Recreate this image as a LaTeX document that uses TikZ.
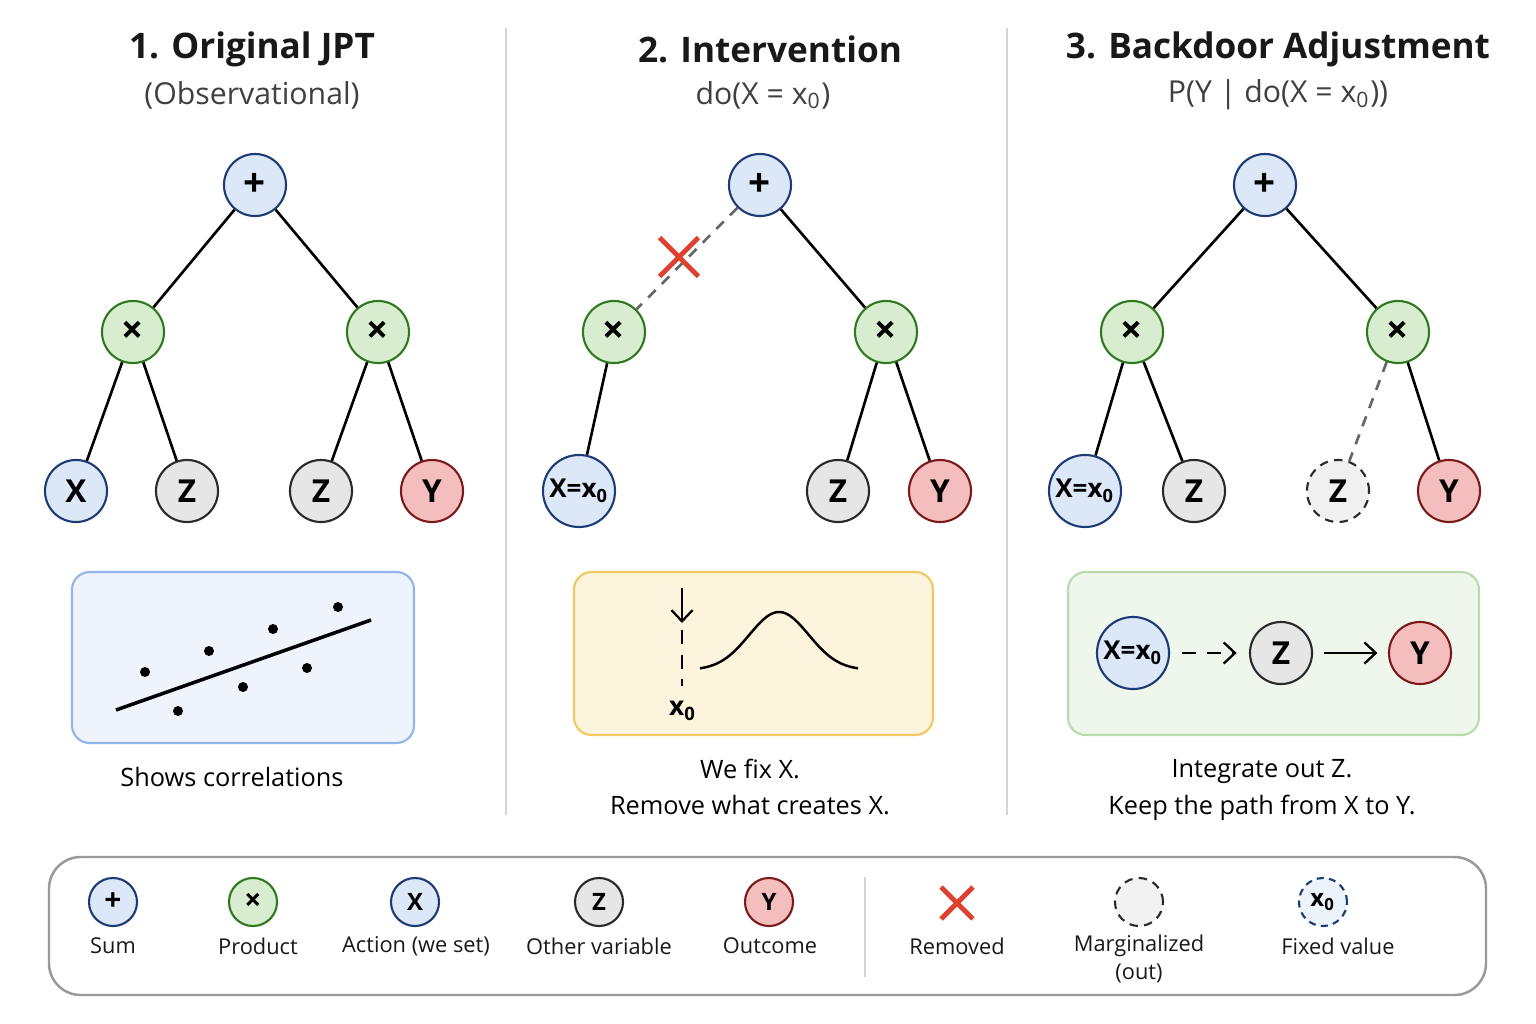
\documentclass[tikz,border=0pt]{standalone}
\usepackage{fontspec}
\setmainfont{Open Sans}
\usepackage{tikz}
\usetikzlibrary{shapes.misc, arrows.meta}

\definecolor{sumfill}{HTML}{DCE8F8}
\definecolor{sumline}{HTML}{1D3B75}
\definecolor{prodfill}{HTML}{D8EDD0}
\definecolor{prodline}{HTML}{2F7A1F}
\definecolor{othfill}{HTML}{E6E6E6}
\definecolor{othline}{HTML}{2A2A2A}
\definecolor{ycolfill}{HTML}{F5BEBE}
\definecolor{ycolline}{HTML}{7A1A1A}
\definecolor{cutred}{HTML}{E0402E}
\definecolor{divgray}{HTML}{D4D4D4}
\definecolor{boxAfill}{HTML}{EEF3FC}
\definecolor{boxAline}{HTML}{93B5EA}
\definecolor{boxBfill}{HTML}{FDF4DE}
\definecolor{boxBline}{HTML}{F2C862}
\definecolor{boxCfill}{HTML}{EFF6EB}
\definecolor{boxCline}{HTML}{B8DCAD}

\tikzset{
  var/.style={circle, draw, line width=0.6pt, minimum size=0.62cm, inner sep=0pt,
    font=\fontsize{9}{10}\selectfont\bfseries},
  opnode/.style={font=\fontsize{11}{12}\selectfont\bfseries},
  sumnode/.style={var, opnode, draw=sumline, fill=sumfill},
  prodnode/.style={var, opnode, draw=prodline, fill=prodfill},
  actnode/.style={var, draw=sumline, fill=sumfill},
  setnode/.style={actnode, minimum size=0.72cm, font=\fontsize{7.4}{9}\selectfont\bfseries},
  othnode/.style={var, draw=othline, fill=othfill},
  margnode/.style={var, draw=othline, fill=othfill!60, dash pattern=on 2.4pt off 1.8pt},
  ynode/.style={var, draw=ycolline, fill=ycolfill},
  small/.style={minimum size=0.48cm, font=\fontsize{6.8}{8}\selectfont\bfseries},
  smallop/.style={minimum size=0.48cm, font=\fontsize{8.5}{9}\selectfont\bfseries},
  link/.style={line width=0.75pt},
  cutlink/.style={line width=0.75pt, draw=black!60, dash pattern=on 3pt off 2.5pt},
  cutmark/.style={cross out, draw=cutred, line width=1.4pt, minimum size=0.34cm, inner sep=0pt},
  barb/.style={-{Straight Barb[length=3.2pt, width=6pt]}, line width=0.65pt},
  title/.style={font=\fontsize{10}{12}\selectfont\bfseries, text=black!90},
  subtitle/.style={font=\fontsize{8.6}{11}\selectfont, text=black!75},
  caption/.style={font=\fontsize{7.2}{10.5}\selectfont, align=center, text=black},
  legtext/.style={font=\fontsize{6.2}{7.8}\selectfont, align=center, text=black!90},
  panel/.style={rounded corners=5pt, line width=0.6pt}
}

\begin{document}
\begin{tikzpicture}[x=0.01cm, y=-0.01cm]
\useasboundingbox[fill=white] (0,0) rectangle (1536,1024);

% dividers
\draw[divgray, line width=0.6pt] (506,28) -- (506,815);
\draw[divgray, line width=0.6pt] (1007,28) -- (1007,815);

% ---------- 1. Original JPT ----------
\node[title] (titleA) at (252,49) {1. Original JPT};
\node[subtitle] (subA) at (252,95) {(Observational)};

\node[sumnode] (rootA) at (255,185) {+};
\node[prodnode] (prodAL) at (133,332) {×};
\node[prodnode] (prodAR) at (378,332) {×};
\node[actnode] (xA) at (76,491) {X};
\node[othnode] (zA) at (187,491) {Z};
\node[othnode] (zzA) at (321,491) {Z};
\node[ynode] (yA) at (432,491) {Y};
\draw[link] (rootA) -- (prodAL);
\draw[link] (rootA) -- (prodAR);
\draw[link] (prodAL) -- (xA);
\draw[link] (prodAL) -- (zA);
\draw[link] (prodAR) -- (zzA);
\draw[link] (prodAR) -- (yA);

\filldraw[panel, fill=boxAfill, draw=boxAline] (72,572) rectangle (414,743);
\coordinate (fitL) at (116,710);
\coordinate (fitR) at (371,620);
\draw[line width=1pt] (fitL) -- (fitR);
\foreach \px/\py in {145/672, 178/711, 209/651, 243/687, 273/629, 307/668, 338/607} {
\fill (\px,\py) circle [radius=5];
}
\node[caption] (capA) at (232,777) {Shows correlations};

% ---------- 2. Intervention ----------
\node[title] (titleB) at (770,49) {2. Intervention};
\node[subtitle] (subB) at (763,95) {do(X = x\textsubscript{0})};

\node[sumnode] (rootB) at (760,185) {+};
\node[prodnode] (prodBL) at (614,332) {×};
\node[prodnode] (prodBR) at (886,332) {×};
\node[setnode] (xB) at (579,491) {X=x\textsubscript{0}};
\node[othnode] (zB) at (838,491) {Z};
\node[ynode] (yB) at (940,491) {Y};
\draw[cutlink] (rootB) -- (prodBL);
\draw[link] (rootB) -- (prodBR);
\draw[link] (prodBL) -- (xB);
\draw[link] (prodBR) -- (zB);
\draw[link] (prodBR) -- (yB);
\node[cutmark] (cutB) at (679,257) {};

\filldraw[panel, fill=boxBfill, draw=boxBline] (574,572) rectangle (933,735);
\coordinate (fixtop) at (682,588);
\coordinate (fixmid) at (682,623);
\coordinate (fixlow) at (682,630);
\coordinate (fixbot) at (682,686);
\draw[barb] (fixtop) -- (fixmid);
\draw[line width=0.6pt, dash pattern=on 4pt off 3pt] (fixlow) -- (fixbot);
\node[font=\fontsize{7.5}{9}\selectfont\bfseries] (fixlab) at (683,711) {x\textsubscript{0}};
\draw[line width=0.7pt] plot[domain=700:858, samples=70] (\x, {670-58*exp(-((\x-779)/42)^2)});
\node[caption] (capB) at (750,787) {We fix X.\\Remove what creates X.};

% ---------- 3. Backdoor Adjustment ----------
\node[title] (titleC) at (1278,49) {3. Backdoor Adjustment};
\node[subtitle] (subC) at (1278,95) {P(Y | do(X = x\textsubscript{0}))};

\node[sumnode] (rootC) at (1265,185) {+};
\node[prodnode] (prodCL) at (1132,332) {×};
\node[prodnode] (prodCR) at (1398,332) {×};
\node[setnode] (xC) at (1085,491) {X=x\textsubscript{0}};
\node[othnode] (zC) at (1194,491) {Z};
\node[margnode] (zzC) at (1338,491) {Z};
\node[ynode] (yC) at (1449,491) {Y};
\draw[link] (rootC) -- (prodCL);
\draw[link] (rootC) -- (prodCR);
\draw[link] (prodCL) -- (xC);
\draw[link] (prodCL) -- (zC);
\draw[cutlink] (prodCR) -- (zzC);
\draw[link] (prodCR) -- (yC);

\filldraw[panel, fill=boxCfill, draw=boxCline] (1068,572) rectangle (1479,735);
\node[setnode] (pathX) at (1133,653) {X=x\textsubscript{0}};
\node[othnode] (pathZ) at (1281,653) {Z};
\node[ynode] (pathY) at (1420,653) {Y};
\draw[barb, dash pattern=on 4pt off 3pt, shorten <=3.5pt, shorten >=3.5pt] (pathX) -- (pathZ);
\draw[barb, shorten <=3pt, shorten >=3pt] (pathZ) -- (pathY);
\node[caption] (capC) at (1262,790) {Integrate out Z.\\Keep the path from X to Y.};

% ---------- legend ----------
\draw[rounded corners=9pt, line width=0.7pt, draw=black!40] (49,857) rectangle (1486,995);
\draw[divgray, line width=0.6pt] (865,877) -- (865,977);

\node[sumnode, smallop] (legsum) at (113,902) {+};
\node[prodnode, smallop] (legprod) at (253,902) {×};
\node[actnode, small] (legact) at (415,902) {X};
\node[othnode, small] (legoth) at (599,902) {Z};
\node[ynode, small] (legout) at (769,902) {Y};
\node[cutmark, minimum size=0.27cm] (legcut) at (957,903) {};
\node[margnode, small, fill=othfill!50] (legmarg) at (1139,902) {};
\node[actnode, small, fill=sumfill!50, dash pattern=on 2pt off 1.5pt] (legfix) at (1323,902) {x\textsubscript{0}};

\node[legtext] at (113,946) {Sum};
\node[legtext] at (258,946) {Product};
\node[legtext] at (416,946) {Action (we set)};
\node[legtext] at (599,946) {Other variable};
\node[legtext] at (770,946) {Outcome};
\node[legtext] at (957,946) {Removed};
\node[legtext] at (1139,959) {Marginalized\\(out)};
\node[legtext] at (1338,946) {Fixed value};
\end{tikzpicture}
\end{document}
